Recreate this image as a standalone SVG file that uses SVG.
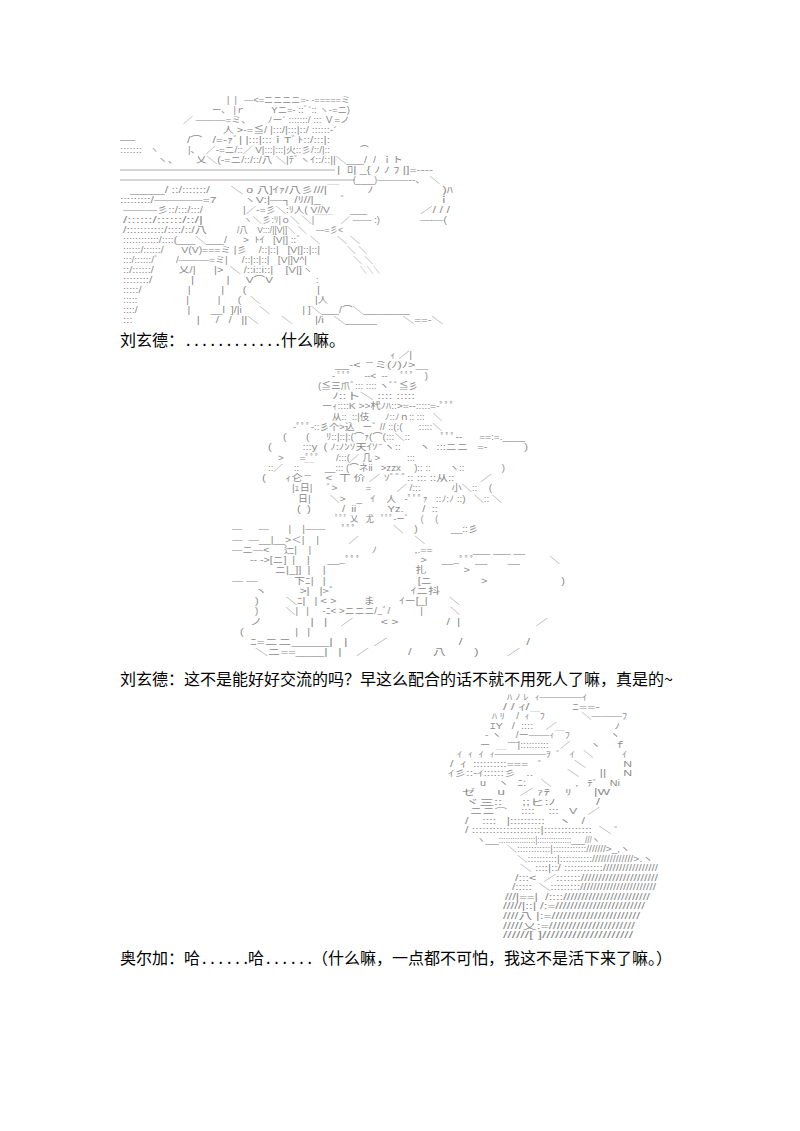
<svg xmlns="http://www.w3.org/2000/svg" width="800" height="1131" viewBox="0 0 800 1131">
<style>
.aa{font-family:"Liberation Sans","Noto Sans CJK JP",sans-serif;fill:#8a8a8a;white-space:pre}
.a1{font-size:8.7px}
.a2{font-size:8.9px}
.a3{font-size:8.3px}
.t{font-family:"Noto Sans CJK SC","Liberation Sans",sans-serif;font-size:16px;fill:#000}
.rule{stroke:#999;stroke-width:0.8}
</style>
<rect width="800" height="1131" fill="#fff"/>
<g id="art1">
<line class="rule" x1="120" y1="170" x2="335" y2="170"/>
<line class="rule" x1="120" y1="180" x2="355" y2="180"/>
<text class="aa a1"><tspan x="227" y="103" textLength="123" lengthAdjust="spacingAndGlyphs">|  |   ―&lt;=ニニニニ=- -=====ミ</tspan
><tspan x="212" y="113" textLength="138" lengthAdjust="spacingAndGlyphs">ー、 |ｒ          Yニ=- ::ﾞ´:: ヽ-=ニ)</tspan
><tspan x="183" y="123" textLength="167" lengthAdjust="spacingAndGlyphs">／ ―――=ミ、      ﾉー´ :::::::/ ::: Ｖ=ノ</tspan
><tspan x="223" y="133" textLength="114" lengthAdjust="spacingAndGlyphs">人 >-=≦/ |:::/|:::|::/ ::::::-´</tspan
><tspan x="120" y="143" textLength="15" lengthAdjust="spacingAndGlyphs">―――</tspan
><tspan x="187" y="143" textLength="143" lengthAdjust="spacingAndGlyphs">/⌒   /=-ｧﾞ| |:::|:::ｉTﾞﾄ::/:::|:</tspan
><tspan x="120" y="153" textLength="22" lengthAdjust="spacingAndGlyphs">:::::::</tspan
><tspan x="150" y="153">ヽ</tspan
><tspan x="188" y="153" textLength="142" lengthAdjust="spacingAndGlyphs">|、  ／-=ニ/::／ V|:::|:::|火::彡/::/|::</tspan
><tspan x="360" y="153">⌒</tspan
><tspan x="157" y="163" textLength="246" lengthAdjust="spacingAndGlyphs">ヽ、      乂＼(-=ニ/::/::/八 ＼|ﾃﾞヽｲ::/::||＼___/  /  ｉト</tspan
><tspan x="337" y="173" textLength="96" lengthAdjust="spacingAndGlyphs">|  ﾛ| _{ ﾉ ﾉ ﾌ |]=----</tspan
><tspan x="353" y="183" textLength="24" lengthAdjust="spacingAndGlyphs">(____)</tspan
><tspan x="377" y="183" textLength="63" lengthAdjust="spacingAndGlyphs">―――--､   ＼</tspan
><tspan x="130" y="193" textLength="323" lengthAdjust="spacingAndGlyphs">_____/ ::/:::::::/      ＼ o 八]ｲｧ/八彡///|￣        ﾉ                    )ﾊ</tspan
><tspan x="120" y="203" textLength="330" lengthAdjust="spacingAndGlyphs">:::::::::/――――=7        ヽV:|―┐ /ﾘ//|_      ﾞ                           ｉ</tspan
><tspan x="123" y="213" textLength="80" lengthAdjust="spacingAndGlyphs">―――彡::/:::/:::/</tspan
><tspan x="243" y="213" textLength="87" lengthAdjust="spacingAndGlyphs">|／-=彡＼:ﾘ人( V//V</tspan
><tspan x="350" y="213" textLength="17" lengthAdjust="spacingAndGlyphs">___</tspan
><tspan x="420" y="213" textLength="30" lengthAdjust="spacingAndGlyphs">／/ / /</tspan
><tspan x="123" y="223" textLength="80" lengthAdjust="spacingAndGlyphs">/::::::/::::::/::/|</tspan
><tspan x="243" y="223" textLength="137" lengthAdjust="spacingAndGlyphs">ヽ＼彡:ﾘ|ｏ＼ ＼|￣￣   ／ ―― :)</tspan
><tspan x="420" y="223" textLength="27" lengthAdjust="spacingAndGlyphs">―-―(</tspan
><tspan x="123" y="233" textLength="84" lengthAdjust="spacingAndGlyphs">/:::::::::::/::::/::/八</tspan
><tspan x="237" y="233" textLength="106" lengthAdjust="spacingAndGlyphs">/八    V:::/|[V|]＼ ＼    ―=彡&lt;</tspan
><tspan x="123" y="243" textLength="104" lengthAdjust="spacingAndGlyphs">::::::::::::/::::(___＼___/</tspan
><tspan x="243" y="243" textLength="77" lengthAdjust="spacingAndGlyphs">>  ﾄｲ   [V|] ::ﾞ   ＼</tspan
><tspan x="337" y="243" textLength="23" lengthAdjust="spacingAndGlyphs">＼ ＼</tspan
><tspan x="123" y="253" textLength="197" lengthAdjust="spacingAndGlyphs">::::::/::::::/      V(V)===ミ |彡    /::|::|   [V|]::|::|</tspan
><tspan x="347" y="253" textLength="20" lengthAdjust="spacingAndGlyphs">＼ ＼</tspan
><tspan x="123" y="263" textLength="184" lengthAdjust="spacingAndGlyphs">:::/::::::/ﾞ      /―――=ミ|     /::|::|::|   [V|]V^|</tspan
><tspan x="353" y="263" textLength="20" lengthAdjust="spacingAndGlyphs">＼ ＼</tspan
><tspan x="123" y="273" textLength="190" lengthAdjust="spacingAndGlyphs">::/::::::/        乂/|      |>  ＼ /::i::i::|    [V|]ヽ</tspan
><tspan x="360" y="273" textLength="20" lengthAdjust="spacingAndGlyphs">＼＼＼</tspan
><tspan x="123" y="283" textLength="150" lengthAdjust="spacingAndGlyphs">::::::::/            |          |     V⌒V</tspan
><tspan x="316" y="283">:</tspan
><tspan x="123" y="293" textLength="197" lengthAdjust="spacingAndGlyphs">:::::/               |          |      (                       |</tspan
><tspan x="123" y="303" textLength="205" lengthAdjust="spacingAndGlyphs">:::::                 |          |      (   ＼                   |人</tspan
><tspan x="123" y="313" textLength="287" lengthAdjust="spacingAndGlyphs">::::/                 |       __l  ]/|i      ＼           | ]＼___/⌒＼________</tspan
><tspan x="123" y="323" textLength="320" lengthAdjust="spacingAndGlyphs">:::                    |     /   /   ||＼       ＼       |/i   ＼_____        ＼==-＼</tspan
></text>
</g>
<g id="art2">
<text class="aa a2"><tspan x="390" y="358" textLength="22" lengthAdjust="spacingAndGlyphs">ｨ ／|</tspan
><tspan x="335" y="368.25" textLength="93" lengthAdjust="spacingAndGlyphs">__-&lt;  ̄ ̄ ミ(ﾉ)ﾉ>＿</tspan
><tspan x="332" y="378.5" textLength="96" lengthAdjust="spacingAndGlyphs">- ﾟﾟﾟ     --&lt;  --     ﾟﾟﾟ    )</tspan
><tspan x="318" y="388.75" textLength="100" lengthAdjust="spacingAndGlyphs">(≦三爪ﾞ::: :::: ヽﾞﾞ≦彡</tspan
><tspan x="332" y="399" textLength="83" lengthAdjust="spacingAndGlyphs">ﾉ::卜＼ :::: :::::</tspan
><tspan x="322" y="409.25" textLength="133" lengthAdjust="spacingAndGlyphs">ーｨ::::K >>杙ﾉﾊ::>=--:::::=-ﾟﾟﾟ</tspan
><tspan x="332" y="419.5" textLength="110" lengthAdjust="spacingAndGlyphs">从::  ::|伎      ﾉ::ﾉｎ:: :::   ＼</tspan
><tspan x="293" y="429.75" textLength="149" lengthAdjust="spacingAndGlyphs">-ﾟﾟﾟ-::彡个>込   ーﾞ // ::(:(      :::::＼</tspan
><tspan x="283" y="440" textLength="242" lengthAdjust="spacingAndGlyphs">(       (      ﾘ::|::|:(⌒ｧ(⌒(:::＼::           ﾟﾟﾟ--      ==:=.____</tspan
><tspan x="268" y="450.25" textLength="260" lengthAdjust="spacingAndGlyphs">(          :::y  ( ﾉ:ﾉﾝｿ天ｲｿ ̄ ヽ::      ヽ  :::ニニ   =-            )</tspan
><tspan x="278" y="460.5" textLength="137" lengthAdjust="spacingAndGlyphs">>      =ﾟﾟﾟ      /:::(／ 几 >          :::</tspan
><tspan x="268" y="470.75" textLength="237" lengthAdjust="spacingAndGlyphs">::／    ::  ￣    __::: (⌒ネii   >zzx     ):: ::       ヽ::              )</tspan
><tspan x="262" y="481" textLength="230" lengthAdjust="spacingAndGlyphs">(      ｨ仑 ̄ ̄     &lt;  丅 价 ／ ｿﾞﾞﾞ:: ::: ::从::        ／</tspan
><tspan x="292" y="491.25" textLength="200" lengthAdjust="spacingAndGlyphs">|ｪ日|     ﾞ>          =         ／ /:::           小＼::    (</tspan
><tspan x="298" y="501.5" textLength="204" lengthAdjust="spacingAndGlyphs">日|       ＼>    _   ｲ    人   -ﾟﾟﾟｧ   ::ﾉ:ﾉ ::)   ＼:: ＼</tspan
><tspan x="297" y="511.75" textLength="141" lengthAdjust="spacingAndGlyphs">(  )          /  ii          Yz.      /  ::</tspan
><tspan x="335" y="522" textLength="103" lengthAdjust="spacingAndGlyphs">ﾟﾟﾟ 乂   尤   ﾟﾟﾟ-ーﾞ     (     (</tspan
><tspan x="232" y="532.25" textLength="246" lengthAdjust="spacingAndGlyphs">―      ―       |    |――      ﾟﾟﾟ             ＼    )            __::彡</tspan
><tspan x="232" y="542.5" textLength="193" lengthAdjust="spacingAndGlyphs">―  ―__|__>＜|    |          ／                   ＼</tspan
><tspan x="232" y="552.75" textLength="293" lengthAdjust="spacingAndGlyphs">―ニ―&lt;     辷|    |                     ﾉ             ,.==              ___ ___ __</tspan
><tspan x="250" y="563" textLength="310" lengthAdjust="spacingAndGlyphs">-- ->[ニ]  |    |      ___ﾟﾟﾟ                    >     ___ﾟﾟﾟ__       __          ＼</tspan
><tspan x="275" y="573.25" textLength="195" lengthAdjust="spacingAndGlyphs">ニ|_]]  |    |                             扎            ></tspan
><tspan x="232" y="583.5" textLength="333" lengthAdjust="spacingAndGlyphs">― ―            下ﾆ|   |                              [ニ                >                        )</tspan
><tspan x="255" y="593.75" textLength="185" lengthAdjust="spacingAndGlyphs">ヽ          >|   |>ﾞ                       ｲニ抖</tspan
><tspan x="255" y="604" textLength="205" lengthAdjust="spacingAndGlyphs">)         ＼ﾆ|   | &lt; >         ま        ｲー[_|       ＼</tspan
><tspan x="255" y="614.25" textLength="205" lengthAdjust="spacingAndGlyphs">)          ＼|   |     -ﾆ&lt; >ニニニ/_ﾞ/           |          ＼</tspan
><tspan x="250" y="624.5" textLength="298" lengthAdjust="spacingAndGlyphs">ノ              |   |    ／        &lt; >              /  |                      ／</tspan
><tspan x="240" y="634.75" textLength="70" lengthAdjust="spacingAndGlyphs">(                 |   |</tspan
><tspan x="250" y="645" textLength="280" lengthAdjust="spacingAndGlyphs">ﾆ=ニニ_____|   |       ／                   /                 /</tspan
><tspan x="255" y="655.25" textLength="265" lengthAdjust="spacingAndGlyphs">＼ニ==____|   |    ／           /      八        )        ／</tspan
></text>
</g>
<g id="art3">
<text class="aa a3"><tspan x="507" y="700" textLength="80" lengthAdjust="spacingAndGlyphs">ﾊ ﾉ ﾚ  ｨ――――ｲ</tspan
><tspan x="503" y="709.5" textLength="97" lengthAdjust="spacingAndGlyphs">/ / ｲ/           ﾆ==-</tspan
><tspan x="492" y="719" textLength="135" lengthAdjust="spacingAndGlyphs">ﾊ ﾘ    /  ｨ￣ﾌ             ＼―――ﾌ</tspan
><tspan x="490" y="728.6" textLength="130" lengthAdjust="spacingAndGlyphs">ｴY   /  ::::    ／                   ﾉ</tspan
><tspan x="485" y="738.1" textLength="135" lengthAdjust="spacingAndGlyphs">- ヽ     /ー――ｨ￣ﾌ              ヽ</tspan
><tspan x="480" y="747.6" textLength="145" lengthAdjust="spacingAndGlyphs">ー  ＿ ̄ ̄ ̄ ̄|::::::::::    ／       ヽ     ｆ</tspan
><tspan x="457" y="757.1" textLength="170" lengthAdjust="spacingAndGlyphs">ｲ  ｨ  ｲ  ｨ―――――ｦ  ﾞ   ｲ   ＼          ｲ</tspan
><tspan x="450" y="766.6" textLength="182" lengthAdjust="spacingAndGlyphs">/  ｲ  ::::::::::===   ﾞ         ＼           N</tspan
><tspan x="448" y="776.2" textLength="184" lengthAdjust="spacingAndGlyphs">ｲ彡::-ｲ::::::彡   ..          ＼      ||     N</tspan
><tspan x="480" y="785.7" textLength="140" lengthAdjust="spacingAndGlyphs">u    ヽ   ﾆ:     ＼        ,   ﾃﾞ    Ni</tspan
><tspan x="462" y="795.2" textLength="148" lengthAdjust="spacingAndGlyphs">ゼ      u    ／ ｧﾃ    ﾘ      |W</tspan
><tspan x="465" y="804.7" textLength="135" lengthAdjust="spacingAndGlyphs">ヾ三::     ;;ヒ:ﾉ          /</tspan
><tspan x="470" y="814.2" textLength="130" lengthAdjust="spacingAndGlyphs">ニニ⌒    ::::    :::   V   ／</tspan
><tspan x="465" y="823.8" textLength="120" lengthAdjust="spacingAndGlyphs">/    ::::   |::::::::::    ヽ   /</tspan
><tspan x="465" y="833.3" textLength="155" lengthAdjust="spacingAndGlyphs">/ ::::::::::::::::::::|::::::::::::::  ＼ ﾞ</tspan
><tspan x="477" y="842.8" textLength="123" lengthAdjust="spacingAndGlyphs">ヽ___::::::::::::::::|:::::::::::::::___///ヽ</tspan
><tspan x="507" y="852.3" textLength="123" lengthAdjust="spacingAndGlyphs">＼::::::::::::|::::::::::::///////>_,ヽ</tspan
><tspan x="517" y="861.8" textLength="136" lengthAdjust="spacingAndGlyphs">＼::::::::::|::::::::::://////////////>.ヽ</tspan
><tspan x="520" y="871.4" textLength="138" lengthAdjust="spacingAndGlyphs">＼ ::::|::/ :::::::::::://///////////////</tspan
><tspan x="515" y="880.9" textLength="143" lengthAdjust="spacingAndGlyphs">/:::&lt;  ／::::::://////////////////////</tspan
><tspan x="512" y="890.4" textLength="144" lengthAdjust="spacingAndGlyphs">/:::::  ＼:::::::::///////////////////////</tspan
><tspan x="505" y="899.9" textLength="145" lengthAdjust="spacingAndGlyphs">///|==|  /::::////////////////////////</tspan
><tspan x="503" y="909.4" textLength="142" lengthAdjust="spacingAndGlyphs">/////|::| /:=////////////////////////</tspan
><tspan x="503" y="919" textLength="137" lengthAdjust="spacingAndGlyphs">////八 |:=///////////////////////</tspan
><tspan x="503" y="928.5" textLength="132" lengthAdjust="spacingAndGlyphs">/////乂:=//////////////////////</tspan
><tspan x="503" y="938" textLength="130" lengthAdjust="spacingAndGlyphs">//////[ ]/////////////////////</tspan
></text>
</g>
<g id="dialogue">
<text class="t" x="120" y="346">刘玄德：</text>
<text class="t" x="186" y="346" textLength="94" lengthAdjust="spacing">............</text>
<text class="t" x="281" y="346">什么嘛。</text>
<text class="t" x="120" y="685">刘玄德：这不是能好好交流的吗？早这么配合的话不就不用死人了嘛，真是的~</text>
<text class="t" x="120" y="964">奥尔加：</text>
<text class="t" x="184" y="964">哈</text>
<text class="t" x="202" y="964" textLength="46" lengthAdjust="spacing">......</text>
<text class="t" x="248" y="964">哈</text>
<text class="t" x="266" y="964" textLength="46" lengthAdjust="spacing">......</text>
<text class="t" x="312" y="964">（什么嘛，一点都不可怕，我这不是活下来了嘛。）</text>
</g>
</svg>
